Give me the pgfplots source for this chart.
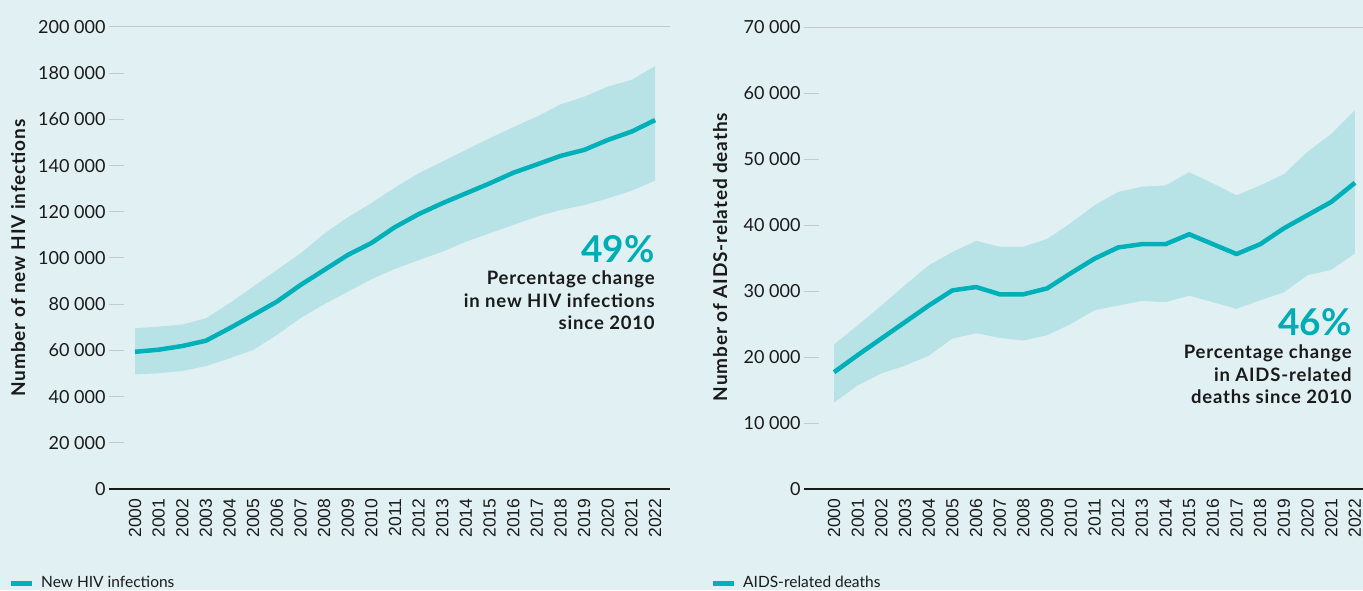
\documentclass[border=0pt]{standalone}
\usepackage{fontspec}
\setmainfont{Lato}
\newfontfamily\yearfont{Liberation Sans}
\usepackage{pgfplots}
\usepackage{pgfplotstable}
\pgfplotsset{compat=1.18}
\usepgfplotslibrary{fillbetween}

\definecolor{bgcol}{HTML}{E1F0F3}
\definecolor{bandcol}{HTML}{B8E3E6}
\definecolor{linecol}{HTML}{00B0B9}
\definecolor{pctcol}{HTML}{00ADB5}
\definecolor{tickgray}{HTML}{C8C8C8}
\definecolor{txt}{HTML}{1A1A1A}

% new HIV infections: estimate, lower and upper bound
\pgfplotstableread{
year mid lo hi
2000 59400 49600 69600
2001 60300 50100 70300
2002 61900 51100 71200
2003 64200 53200 73900
2004 69600 56600 80400
2005 75300 60200 87600
2006 81100 66700 94800
2007 88300 74000 102000
2008 94800 80000 110500
2009 101300 85400 117600
2010 106500 90800 123800
2011 113400 95300 130500
2012 119000 99100 136700
2013 123700 102700 141700
2014 128000 107100 146800
2015 132300 110700 151800
2016 136900 114300 156600
2017 140500 117900 161200
2018 144200 120800 166500
2019 146800 122900 169800
2020 151100 125800 174200
2021 154700 129100 177100
2022 159700 133500 183100
}\hivdata

% AIDS-related deaths
\pgfplotstableread{
year mid lo hi
2000 17700 13100 21900
2001 20300 15700 24800
2002 22800 17500 27800
2003 25300 18700 30900
2004 27800 20200 33900
2005 30100 22800 35900
2006 30600 23600 37600
2007 29500 22900 36700
2008 29500 22500 36700
2009 30400 23300 37900
2010 32700 25000 40300
2011 34900 27100 43000
2012 36600 27800 45000
2013 37100 28500 45800
2014 37100 28300 46000
2015 38600 29300 48000
2016 37100 28300 46300
2017 35600 27300 44500
2018 37100 28600 46000
2019 39500 29800 47700
2020 41500 32400 51100
2021 43500 33200 53800
2022 46400 35700 57400
}\deathdata

\newcommand\boldtext{\bfseries\addfontfeature{LetterSpace=4.5}}

\pgfplotsset{
  panel/.style={
    scale only axis, anchor=south west, height=462pt,
    axis x line=bottom, axis y line=left,
    x axis line style={line width=2.5pt, -, txt},
    y axis line style={draw=none},
    xtick={2000,...,2022},
    x tick label style={rotate=90, anchor=east,
      font=\yearfont\fontsize{17.5}{17.5}\selectfont,
      /pgf/number format/1000 sep={}},
    xticklabel shift=6pt,
    xtick style={draw=none},
    ytick style={tickgray, line width=1pt},
    major tick length=15pt, tick align=inside,
    y tick label style={font=\fontsize{18}{18}\selectfont},
    tick label style={text=txt},
    scaled y ticks=false,
    /pgf/number format/assume math mode=true,
    /pgf/number format/fixed,
    /pgf/number format/1000 sep={\ },
    ymin=0,
    extra y tick style={ymajorgrids=true, major grid style={tickgray, line width=1pt}},
    ylabel style={font=\boldtext\fontsize{19}{19}\selectfont, text=txt, anchor=center},
    legend style={draw=none, fill=none, inner sep=0pt,
      nodes={inner sep=0pt},
      font=\fontsize{15.5}{15.5}\selectfont, text=txt,
      /tikz/every odd column/.append style={column sep=9pt}},
    legend image code/.code={\path[fill=linecol, draw=none] (0pt,-2.5pt) rectangle (21pt,2.5pt);},
  },
}
\tikzset{
  pct/.style={anchor=base east, inner sep=0pt, text=pctcol,
    font=\bfseries\fontsize{37}{37}\selectfont},
  note/.style={anchor=base east, inner sep=0pt, text=txt,
    font=\boldtext\fontsize{18.5}{18.5}\selectfont},
}

\begin{document}
\begin{tikzpicture}

\begin{axis}[panel,
  at={(109pt,101pt)}, width=561pt,
  xmin=1998.9, xmax=2022.63, ymax=200000,
  ytick={0,20000,...,180000}, extra y ticks={200000},
  ylabel={Number of new HIV infections},
  ylabel style={at={(rel axis cs:-0.162,0.50)}},
  legend style={at={(rel axis cs:-0.1747,-0.2035)}, anchor=west},
]
% page background, on the lowest layer
\begin{pgfonlayer}{axis background}
\fill[bgcol] (rel axis cs:-0.1943,-0.2186) rectangle (rel axis cs:2.2353,1.0584);
\end{pgfonlayer}
\addplot[name path=hi, draw=none, forget plot] table[x=year, y=hi] {\hivdata};
\addplot[name path=lo, draw=none, forget plot] table[x=year, y=lo] {\hivdata};
\addplot[fill=bandcol, draw=none, forget plot] fill between[of=hi and lo];
\addplot[linecol, line width=4.5pt, line join=round] table[x=year, y=mid] {\hivdata};
\addlegendentry{New HIV infections}
\node[pct] at (rel axis cs:0.973,0.491) {49\%};
\node[note] at (rel axis cs:0.973,0.4416) {Percentage change};
\node[note] at (rel axis cs:0.973,0.3929) {in new HIV infections};
\node[note] at (rel axis cs:0.973,0.3442) {since 2010};
\end{axis}

\begin{axis}[panel,
  at={(804pt,101pt)}, width=559pt,
  xmin=1998.73, xmax=2022.34, ymax=70000,
  ytick={0,10000,...,60000}, extra y ticks={70000},
  ylabel={Number of AIDS-related deaths},
  ylabel style={at={(rel axis cs:-0.150,0.502)}},
  legend style={at={(rel axis cs:-0.1628,-0.2035)}, anchor=west},
]
\addplot[name path=hi, draw=none, forget plot] table[x=year, y=hi] {\deathdata};
\addplot[name path=lo, draw=none, forget plot] table[x=year, y=lo] {\deathdata};
\addplot[fill=bandcol, draw=none, forget plot] fill between[of=hi and lo];
\addplot[linecol, line width=4.5pt, line join=round] table[x=year, y=mid] {\deathdata};
\addlegendentry{AIDS-related deaths}
\node[pct] at (rel axis cs:0.980,0.333) {46\%};
\node[note] at (rel axis cs:0.980,0.2829) {Percentage change};
\node[note] at (rel axis cs:0.980,0.2331) {in AIDS-related};
\node[note] at (rel axis cs:0.980,0.1851) {deaths since 2010};
\end{axis}

\pgfresetboundingbox
\path (0,0) rectangle (1363pt,590pt);
\end{tikzpicture}
\end{document}
